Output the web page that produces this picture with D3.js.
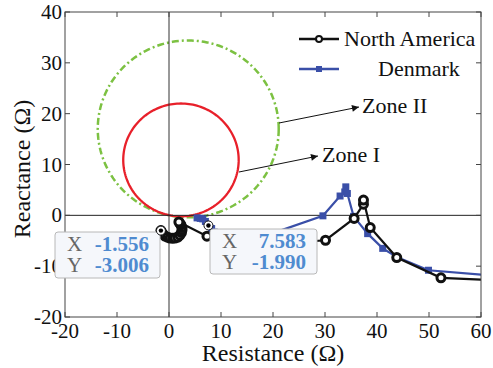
<!DOCTYPE html>
<html><head><meta charset="utf-8">
<script src="https://cdn.jsdelivr.net/npm/d3@7"></script>
<style>body{margin:0;background:#fff}svg{display:block}</style>
</head><body>
<svg id="c" width="493" height="368" font-family="'Liberation Serif', 'DejaVu Serif', serif"></svg>
<script>
const xTicks = [-20,-10,0,10,20,30,40,50,60];
const yTicks = [-20,-10,0,10,20,30,40];
const naR = [-1.556,-1.2,-0.77,-0.3,0.19,0.7,1.15,1.7,2.1,2.4,2.5,2.5,2.3,2.1,1.9,7.3,15,30.1,35.6,37.4,37.4,38.7,43.8,52.3,64];
const naX = [-3.006,-3.6,-4.07,-4.3,-4.47,-4.5,-4.47,-4.3,-3.9,-3.4,-2.9,-2.4,-1.9,-1.6,-1.3,-4.1,-6,-4.9,-0.6,2.2,3.0,-2.4,-8.3,-12.3,-12.8];
const dkR = [5.4,6.0,6.5,7.0,7.583,8.2,8.7,12,20,29.6,32.9,33.8,34.0,34.3,35.5,38.2,41.1,43.8,49.9,64];
const dkX = [-0.5,-0.6,-0.7,-1.2,-1.990,-2.6,-3.3,-4.0,-3.5,-0.1,3.8,4.6,5.6,4.3,-0.2,-3.6,-6.5,-8.2,-10.8,-12.0];
const zone1 = {cx:2.3, cy:10.9, r:11.1};
const zone2 = {cx:3.7, cy:17.0, r:17.4};
const tips = [{r:-1.556, x:-3.006}, {r:7.583, x:-1.990}];

const svg = d3.select("#c");
const m = {l:65, r:481, t:12, b:317};
const x = d3.scaleLinear().domain([-20,60]).range([m.l,m.r]);
const y = d3.scaleLinear().domain([-20,40]).range([m.b,m.t]);

svg.append("clipPath").attr("id","clip").append("rect")
  .attr("x",m.l).attr("y",m.t).attr("width",m.r-m.l).attr("height",m.b-m.t);
const g = svg.append("g").attr("clip-path","url(#clip)");

function circ(z){
  const pts = d3.range(0,361,2).map(a=>[z.cx+z.r*Math.cos(a*Math.PI/180), z.cy+z.r*Math.sin(a*Math.PI/180)]);
  return d3.line().x(d=>x(d[0])).y(d=>y(d[1]))(pts);
}
g.append("path").attr("d",circ(zone2)).attr("fill","none").attr("stroke","#7cc142")
  .attr("stroke-width",2.5).attr("stroke-dasharray","7,3,2,3");
g.append("path").attr("d",circ(zone1)).attr("fill","none").attr("stroke","#e8202a").attr("stroke-width",2.3);

g.append("line").attr("x1",x(0)).attr("x2",x(0)).attr("y1",m.t).attr("y2",m.b).attr("stroke","#333").attr("stroke-width",1);
g.append("line").attr("x1",m.l).attr("x2",m.r).attr("y1",y(0)).attr("y2",y(0)).attr("stroke","#222").attr("stroke-width",1);

const line = d3.line().x(d=>x(d[0])).y(d=>y(d[1]));
const dk = dkR.map((v,i)=>[v,dkX[i]]);
const na = naR.map((v,i)=>[v,naX[i]]);
const blue = "#3a4fa8";
g.append("path").attr("d",line(dk)).attr("fill","none").attr("stroke",blue).attr("stroke-width",2.2);
g.selectAll(".sq").data(dk).join("rect").attr("x",d=>x(d[0])-3.5).attr("y",d=>y(d[1])-3.5)
  .attr("width",7).attr("height",7).attr("fill",blue);
g.append("path").attr("d",line(na)).attr("fill","none").attr("stroke","#111").attr("stroke-width",2.2);
g.selectAll(".ci").data(na).join("circle").attr("cx",d=>x(d[0])).attr("cy",d=>y(d[1])).attr("r",4)
  .attr("fill","#fff").attr("stroke","#111").attr("stroke-width",3);

const ax = svg.append("g");
ax.append("rect").attr("x",m.l).attr("y",m.t).attr("width",m.r-m.l).attr("height",m.b-m.t)
  .attr("fill","none").attr("stroke","#444").attr("stroke-width",1);
xTicks.forEach(t=>{
  ax.append("line").attr("x1",x(t)).attr("x2",x(t)).attr("y1",m.b).attr("y2",m.b-5).attr("stroke","#444");
  ax.append("line").attr("x1",x(t)).attr("x2",x(t)).attr("y1",m.t).attr("y2",m.t+5).attr("stroke","#444");
  ax.append("text").attr("x",x(t)).attr("y",m.b+21).attr("text-anchor","middle").attr("font-size",21).attr("fill","#111").text(t);
});
yTicks.forEach(t=>{
  ax.append("line").attr("x1",m.l).attr("x2",m.l+5).attr("y1",y(t)).attr("y2",y(t)).attr("stroke","#444");
  ax.append("line").attr("x1",m.r).attr("x2",m.r-5).attr("y1",y(t)).attr("y2",y(t)).attr("stroke","#444");
  ax.append("text").attr("x",m.l-3).attr("y",y(t)+7).attr("text-anchor","end").attr("font-size",21).attr("fill","#111").text(t);
});
svg.append("text").attr("x",273).attr("y",361).attr("text-anchor","middle").attr("font-size",24).attr("fill","#111").text("Resistance (Ω)");
svg.append("text").attr("transform","translate(30,169) rotate(-90)").attr("text-anchor","middle").attr("font-size",24).attr("fill","#111").text("Reactance (Ω)");

svg.append("defs").append("marker").attr("id","ah").attr("viewBox","0 0 10 10").attr("refX",10).attr("refY",5)
  .attr("markerWidth",10).attr("markerHeight",7).attr("markerUnits","userSpaceOnUse").attr("orient","auto")
  .append("path").attr("d","M0,0L10,5L0,10Z").attr("fill","#111");
svg.append("line").attr("x1",279).attr("y1",123).attr("x2",359).attr("y2",107).attr("stroke","#111").attr("stroke-width",1).attr("marker-end","url(#ah)");
svg.append("text").attr("x",362).attr("y",113).attr("font-size",22).attr("fill","#111").text("Zone II");
svg.append("line").attr("x1",239).attr("y1",172).attr("x2",318).attr("y2",156).attr("stroke","#111").attr("stroke-width",1).attr("marker-end","url(#ah)");
svg.append("text").attr("x",322).attr("y",162).attr("font-size",22).attr("fill","#111").text("Zone I");

const lg = svg.append("g");
lg.append("line").attr("x1",299).attr("x2",339).attr("y1",39).attr("y2",39).attr("stroke","#111").attr("stroke-width",2.5);
lg.append("circle").attr("cx",319).attr("cy",39).attr("r",3).attr("fill","#fff").attr("stroke","#111").attr("stroke-width",2);
lg.append("text").attr("x",344).attr("y",46).attr("font-size",22).attr("fill","#111").text("North America");
lg.append("line").attr("x1",299).attr("x2",339).attr("y1",69).attr("y2",69).attr("stroke",blue).attr("stroke-width",2.5);
lg.append("rect").attr("x",316).attr("y",66).attr("width",6).attr("height",6).attr("fill",blue);
lg.append("text").attr("x",378).attr("y",76).attr("font-size",22).attr("fill","#111").text("Denmark");

const boxes = [{x0:55,y0:232,x1:160,y1:278},{x0:210,y0:229,x1:317,y1:274}];
tips.forEach((t,i)=>{
  const b = boxes[i];
  const tg = svg.append("g");
  tg.append("rect").attr("x",b.x0).attr("y",b.y0).attr("width",b.x1-b.x0).attr("height",b.y1-b.y0).attr("rx",3)
    .attr("fill","#f5f7fb").attr("stroke","#b8b8b8").attr("stroke-width",1);
  tg.append("text").attr("x",b.x0+12).attr("y",b.y0+19).attr("font-size",21).attr("fill","#666").text("X");
  tg.append("text").attr("x",b.x0+12).attr("y",b.y0+40).attr("font-size",21).attr("fill","#666").text("Y");
  tg.append("text").attr("x",b.x1-11).attr("y",b.y0+19).attr("text-anchor","end").attr("font-size",21).attr("font-weight","bold").attr("fill","#4f8bd0").text(t.r.toFixed(3));
  tg.append("text").attr("x",b.x1-11).attr("y",b.y0+40).attr("text-anchor","end").attr("font-size",21).attr("font-weight","bold").attr("fill","#4f8bd0").text(t.x.toFixed(3));
  svg.append("circle").attr("cx",x(t.r)).attr("cy",y(t.x)).attr("r",4.5).attr("fill","#fff").attr("stroke","#111").attr("stroke-width",1);
  svg.append("circle").attr("cx",x(t.r)).attr("cy",y(t.x)).attr("r",2.2).attr("fill","#000");
});
</script>
</body></html>
